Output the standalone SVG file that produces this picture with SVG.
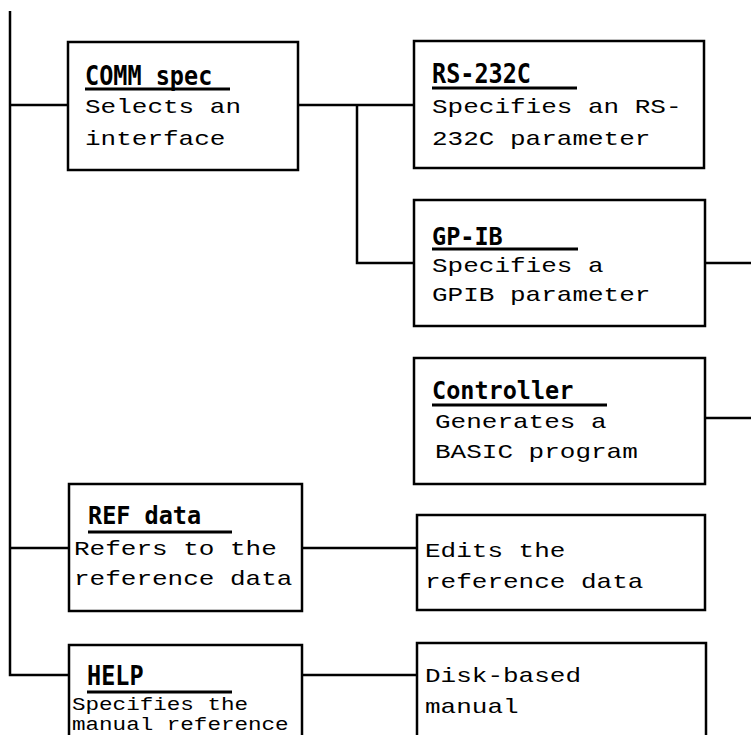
<svg xmlns="http://www.w3.org/2000/svg" width="751" height="735" viewBox="0 0 751 735">
<style>
.box{fill:#fff;stroke:#000;stroke-width:2.5}
.ln{fill:none;stroke:#000;stroke-width:2.5}
.ul{stroke:#000;stroke-width:2.8}
.t{font-family:"DejaVu Sans Mono","Liberation Mono",monospace;font-weight:bold;font-size:23.5px;fill:#000}
.b{font-family:"Liberation Mono","DejaVu Sans Mono",monospace;font-size:20px;fill:#000}
.s{font-family:"Liberation Mono","DejaVu Sans Mono",monospace;font-size:17.5px;fill:#000}
</style>
<rect width="751" height="735" fill="#fff"/>
<g id="connectors">
<path class="ln" d="M10,11 V675 H69"/>
<path class="ln" d="M10,105 H68"/>
<path class="ln" d="M298,105 H414"/>
<path class="ln" d="M357,105 V263 H414"/>
<path class="ln" d="M705,263 H751"/>
<path class="ln" d="M705,418 H751"/>
<path class="ln" d="M10,548 H69"/>
<path class="ln" d="M302,548 H417"/>
<path class="ln" d="M302,675 H417"/>
</g>
<g id="comm">
<rect class="box" x="68" y="42" width="230" height="128"/>
<text class="t" transform="translate(85,85) scale(1,1.12)">COMM spec</text>
<line class="ul" x1="85" y1="89" x2="230" y2="89"/>
<text class="b" transform="translate(85,113) scale(1.3,1)">Selects an</text>
<text class="b" transform="translate(85,145) scale(1.3,1)">interface</text>
</g>
<g id="rs232c">
<rect class="box" x="414" y="41" width="290" height="127"/>
<text class="t" transform="translate(432,83) scale(1,1.12)">RS-232C</text>
<line class="ul" x1="432" y1="88" x2="577" y2="88"/>
<text class="b" transform="translate(432,113) scale(1.3,1)">Specifies an RS-</text>
<text class="b" transform="translate(432,145) scale(1.3,1)">232C parameter</text>
</g>
<g id="gpib">
<rect class="box" x="414" y="200" width="291" height="126"/>
<text class="t" transform="translate(432,245) scale(1,1.05)">GP-IB</text>
<line class="ul" x1="432" y1="249" x2="578" y2="249"/>
<text class="b" transform="translate(432,272) scale(1.3,1)">Specifies a</text>
<text class="b" transform="translate(432,301) scale(1.3,1)">GPIB parameter</text>
</g>
<g id="controller">
<rect class="box" x="414" y="358" width="291" height="126"/>
<text class="t" transform="translate(432,399) scale(1,1.05)">Controller</text>
<line class="ul" x1="432" y1="405" x2="607" y2="405"/>
<text class="b" transform="translate(435,428) scale(1.3,1)">Generates a</text>
<text class="b" transform="translate(435,458) scale(1.3,1)">BASIC program</text>
</g>
<g id="refdata">
<rect class="box" x="69" y="484" width="233" height="127"/>
<text class="t" transform="translate(88,524) scale(1,1.05)">REF data</text>
<line class="ul" x1="88" y1="532" x2="232" y2="532"/>
<text class="b" transform="translate(74,555) scale(1.3,1)">Refers to the</text>
<text class="b" transform="translate(74,585) scale(1.3,1)">reference data</text>
</g>
<g id="edits">
<rect class="box" x="417" y="515" width="288" height="95"/>
<text class="b" transform="translate(425,557) scale(1.3,1)">Edits the</text>
<text class="b" transform="translate(425,588) scale(1.3,1)">reference data</text>
</g>
<g id="help">
<rect class="box" x="69" y="645" width="233" height="100"/>
<text class="t" transform="translate(87,685) scale(1,1.12)">HELP</text>
<line class="ul" x1="87" y1="692" x2="232" y2="692"/>
<text class="s" transform="translate(72,710) scale(1.29,1)">Specifies the</text>
<text class="s" transform="translate(72,730) scale(1.29,1)">manual reference</text>
</g>
<g id="manual">
<rect class="box" x="417" y="643" width="289" height="102"/>
<text class="b" transform="translate(425,682) scale(1.3,1)">Disk-based</text>
<text class="b" transform="translate(425,713) scale(1.3,1)">manual</text>
</g>
</svg>
